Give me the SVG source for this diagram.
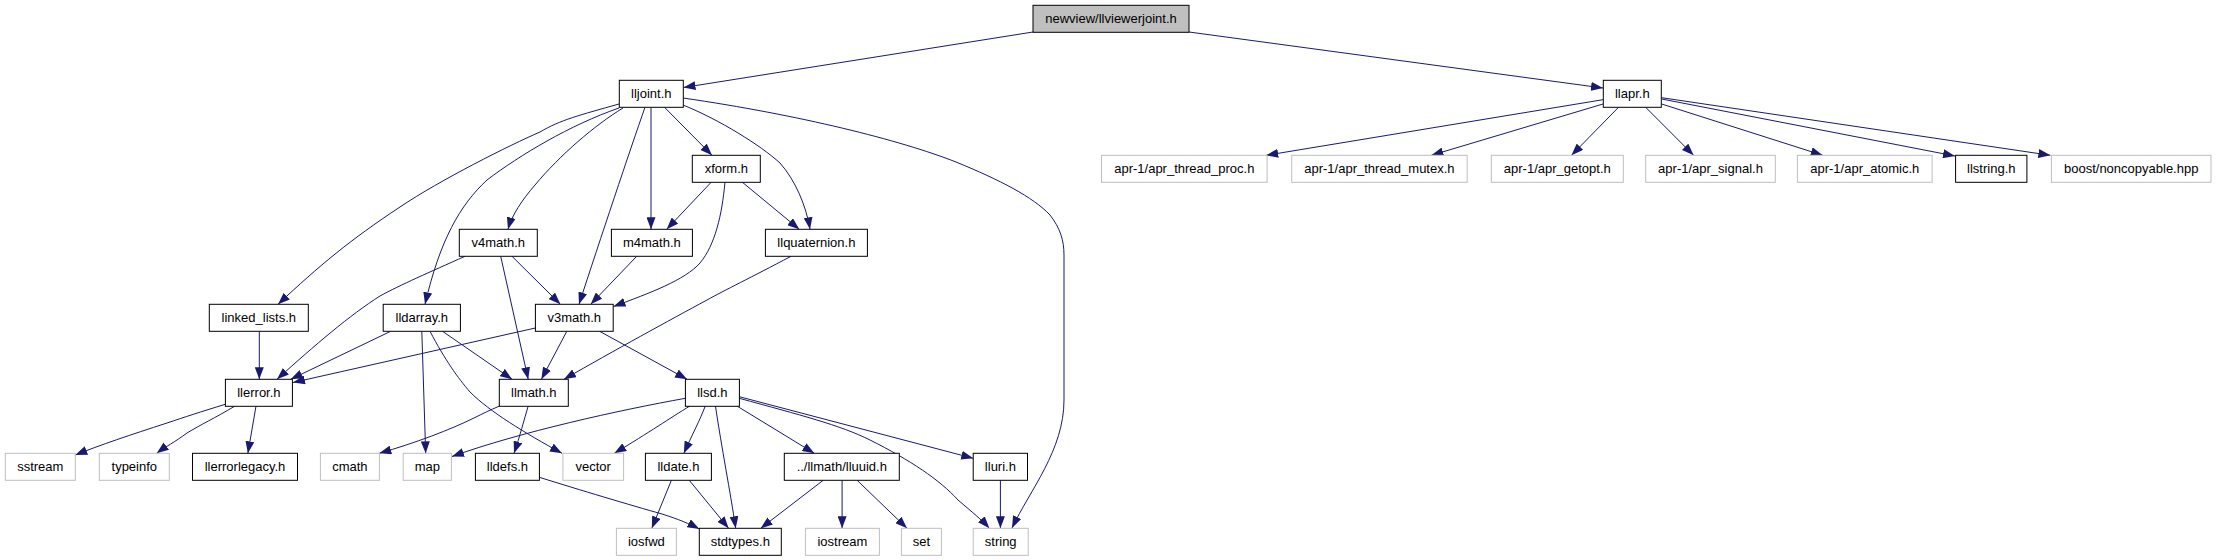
<svg xmlns="http://www.w3.org/2000/svg" width="2216" height="560" viewBox="0 0 2216 560">
<style>
.n rect{fill:#ffffff;stroke:#000000;stroke-width:1}
.x rect{fill:#ffffff;stroke:#bfbfbf;stroke-width:1}
.r rect{fill:#bfbfbf;stroke:#000000;stroke-width:1}
text{font-family:"Liberation Sans",Arial,sans-serif;font-size:13px;fill:#000000;text-anchor:middle}
#edges path{fill:none;stroke:#191970;stroke-width:1;marker-end:url(#a)}
</style>
<defs>
<marker id="a" markerWidth="12" markerHeight="9" refX="12" refY="4.5" orient="auto" markerUnits="userSpaceOnUse"><path d="M0,0 L12,4.5 L0,9 z" fill="#191970"/></marker>
</defs>
<rect width="2216" height="560" fill="#ffffff"/>
<g id="edges">
<path d="M1033,32 L683.5,87.5"/>
<path d="M1189,32 L1603,88"/>
<path d="M683,98 C800,115 900,140 956,162 C1000,180 1033,197 1050,215 C1060,228 1064,240 1064,255 L1064,400 C1064,450 1030,490 1012,528"/>
<path d="M664.5,107.3 L712,155.3"/>
<path d="M683,105 C720,120 760,145 780,163 C795,180 806,205 810,229.3"/>
<path d="M651,107.3 L651,229.3"/>
<path d="M645,107.3 C630,150 600,240 579,304.3"/>
<path d="M623,108 C595,125 560,155 535,185 C522,200 512,215 508,229.3"/>
<path d="M619,108 C570,125 520,155 487,180 C460,205 440,240 425,304.3"/>
<path d="M619,104 C580,115 560,120 540,132 C510,145 440,180 400,207 C350,240 320,265 278,304.3"/>
<path d="M711.7,181.7 L666.7,229.3"/>
<path d="M741.7,181.7 L799.3,229.3"/>
<path d="M725,182 C722,215 715,245 700,263 C685,280 650,293 613.5,306.5"/>
<path d="M636.7,256.3 L590.7,304.3"/>
<path d="M512,256.3 L560.4,304.3"/>
<path d="M500.7,256.3 L528.2,379.3"/>
<path d="M465,256.3 C430,272 400,285 380,296 C350,315 315,345 277,379.3"/>
<path d="M259.3,331.3 L259.3,379.3"/>
<path d="M390.7,331.3 L290.7,379.3"/>
<path d="M442.5,331.3 L512.1,379.3"/>
<path d="M421.8,331.3 L425.7,453.3"/>
<path d="M430,331.3 C445,360 458,378 470,392 C490,412 525,433 562,453.3"/>
<path d="M566.8,331.3 L541.4,379.3"/>
<path d="M599.6,331.3 L687.1,379.3"/>
<path d="M535.4,328 L293,382.5"/>
<path d="M791,256.3 C750,278 725,290 707,300 C670,320 615,350 564,379.3"/>
<path d="M499.6,406 C490,410 482,414 476,417 C450,430 415,443 379.3,453.3"/>
<path d="M528.2,406 C524,420 520,436 514,453.3"/>
<path d="M225.3,404.3 C200,412 185,417 167,423 C130,435 100,445 75.3,455"/>
<path d="M235,406 C215,418 200,425 187,433 C175,442 165,447 156.7,453.3"/>
<path d="M256,406 L247.9,453.3"/>
<path d="M685.4,398.3 C620,410 520,432 452,456.5"/>
<path d="M690.4,405.7 C670,418 650,432 614.3,453.3"/>
<path d="M705.4,405.7 C700,420 692,435 683.9,453.3"/>
<path d="M715.4,405.7 C722,450 730,490 735.7,528.3"/>
<path d="M736.4,405.7 L814.3,453.3"/>
<path d="M739.3,396.7 L973.2,458.3"/>
<path d="M739.3,398.3 C800,415 840,425 870,440 C910,460 940,480 958,500 C972,512 982,520 989.3,528.3"/>
<path d="M671.4,480.3 L651.8,528.3"/>
<path d="M689.3,480.3 L728.6,528.3"/>
<path d="M823.2,480.3 L760.7,528.3"/>
<path d="M842.1,480.3 L842.1,528.3"/>
<path d="M857.1,480.3 L907,528.3"/>
<path d="M1000.4,480.3 L1000.4,528.3"/>
<path d="M539.3,477.3 C580,490 630,505 662,514 C678,519 690,524 699.3,529"/>
<path d="M1603,99.7 L1266.2,155.3"/>
<path d="M1603,104 L1431.4,155.3"/>
<path d="M1618.5,107.3 L1571.5,155.3"/>
<path d="M1645.7,107.3 L1693.6,155.3"/>
<path d="M1661.7,104 L1822.7,155.3"/>
<path d="M1661.7,99 L1955,156"/>
<path d="M1661.7,97.7 L2050.4,155.3"/>
</g>
<g id="n_root" class="r"><rect x="1033" y="5.3" width="156" height="27"/><text x="1111" y="23.3">newview/llviewerjoint.h</text></g>
<g id="n_lljoint" class="n"><rect x="619.3" y="80.3" width="64" height="27"/><text x="651.3" y="98.3">lljoint.h</text></g>
<g id="n_llapr" class="n"><rect x="1603.3" y="80.3" width="58" height="27"/><text x="1632.3" y="98.3">llapr.h</text></g>
<g id="n_xform" class="n"><rect x="692.3" y="155.3" width="68" height="27"/><text x="726.3" y="173.3">xform.h</text></g>
<g id="n_aprproc" class="x"><rect x="1101.5" y="155.3" width="165.6" height="27"/><text x="1184.3" y="173.3">apr-1/apr_thread_proc.h</text></g>
<g id="n_aprmutex" class="x"><rect x="1291.7" y="155.3" width="175.5" height="27"/><text x="1379.4" y="173.3">apr-1/apr_thread_mutex.h</text></g>
<g id="n_aprgetopt" class="x"><rect x="1491.3" y="155.3" width="132" height="27"/><text x="1557.3" y="173.3">apr-1/apr_getopt.h</text></g>
<g id="n_aprsignal" class="x"><rect x="1645.7" y="155.3" width="129.6" height="27"/><text x="1710.5" y="173.3">apr-1/apr_signal.h</text></g>
<g id="n_apratomic" class="x"><rect x="1797.4" y="155.3" width="134.7" height="27"/><text x="1864.8" y="173.3">apr-1/apr_atomic.h</text></g>
<g id="n_llstring" class="n"><rect x="1955.6" y="155.3" width="71.3" height="27"/><text x="1991.3" y="173.3">llstring.h</text></g>
<g id="n_boost" class="x"><rect x="2051.4" y="155.3" width="159.6" height="27"/><text x="2131.2" y="173.3">boost/noncopyable.hpp</text></g>
<g id="n_v4math" class="n"><rect x="459.3" y="229.3" width="78" height="27"/><text x="498.3" y="247.3">v4math.h</text></g>
<g id="n_m4math" class="n"><rect x="611.4" y="229.3" width="81" height="27"/><text x="651.9" y="247.3">m4math.h</text></g>
<g id="n_llquaternion" class="n"><rect x="765.4" y="229.3" width="102" height="27"/><text x="816.4" y="247.3">llquaternion.h</text></g>
<g id="n_linked_lists" class="n"><rect x="209.3" y="304.3" width="99" height="27"/><text x="258.8" y="322.3">linked_lists.h</text></g>
<g id="n_lldarray" class="n"><rect x="383.2" y="304.3" width="77.2" height="27"/><text x="421.8" y="322.3">lldarray.h</text></g>
<g id="n_v3math" class="n"><rect x="535.4" y="304.3" width="77.8" height="27"/><text x="574.3" y="322.3">v3math.h</text></g>
<g id="n_llerror" class="n"><rect x="225.4" y="379.3" width="67" height="27"/><text x="258.9" y="397.3">llerror.h</text></g>
<g id="n_llmath" class="n"><rect x="499.3" y="379.3" width="69" height="27"/><text x="533.8" y="397.3">llmath.h</text></g>
<g id="n_llsd" class="n"><rect x="685.4" y="379.3" width="54" height="27"/><text x="712.4" y="397.3">llsd.h</text></g>
<g id="n_sstream" class="x"><rect x="5.3" y="453.3" width="70" height="27"/><text x="40.3" y="471.3">sstream</text></g>
<g id="n_typeinfo" class="x"><rect x="99.3" y="453.3" width="70" height="27"/><text x="134.3" y="471.3">typeinfo</text></g>
<g id="n_llerrorlegacy" class="n"><rect x="192.5" y="453.3" width="105" height="27"/><text x="245" y="471.3">llerrorlegacy.h</text></g>
<g id="n_cmath" class="x"><rect x="320.4" y="453.3" width="59" height="27"/><text x="349.9" y="471.3">cmath</text></g>
<g id="n_map" class="x"><rect x="403.2" y="453.3" width="48.2" height="27"/><text x="427.3" y="471.3">map</text></g>
<g id="n_lldefs" class="n"><rect x="475.4" y="453.3" width="64" height="27"/><text x="507.4" y="471.3">lldefs.h</text></g>
<g id="n_vector" class="x"><rect x="562.9" y="453.3" width="60.7" height="27"/><text x="593.2" y="471.3">vector</text></g>
<g id="n_lldate" class="n"><rect x="645.4" y="453.3" width="66" height="27"/><text x="678.4" y="471.3">lldate.h</text></g>
<g id="n_lluuid" class="n"><rect x="784.3" y="453.3" width="115" height="27"/><text x="841.8" y="471.3">../llmath/lluuid.h</text></g>
<g id="n_lluri" class="n"><rect x="973.2" y="453.3" width="54.3" height="27"/><text x="1000.4" y="471.3">lluri.h</text></g>
<g id="n_iosfwd" class="x"><rect x="616.4" y="528.3" width="60" height="27"/><text x="646.4" y="546.3">iosfwd</text></g>
<g id="n_stdtypes" class="n"><rect x="699.3" y="528.3" width="82" height="27"/><text x="740.3" y="546.3">stdtypes.h</text></g>
<g id="n_iostream" class="x"><rect x="805.4" y="528.3" width="74" height="27"/><text x="842.4" y="546.3">iostream</text></g>
<g id="n_set" class="x"><rect x="901.4" y="528.3" width="40" height="27"/><text x="921.4" y="546.3">set</text></g>
<g id="n_string" class="x"><rect x="973.2" y="528.3" width="55" height="27"/><text x="1000.7" y="546.3">string</text></g>
</svg>
